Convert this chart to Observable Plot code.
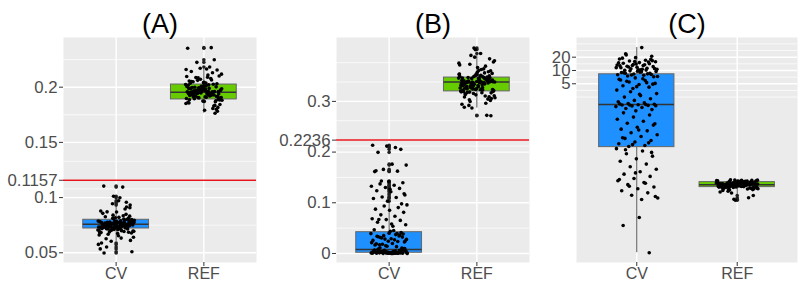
<!DOCTYPE html>
<html>
<head>
<meta charset="utf-8">
<script src="https://cdn.jsdelivr.net/npm/d3@7"></script>
<script src="https://cdn.jsdelivr.net/npm/@observablehq/plot@0.6"></script>
<style>
  html, body { margin: 0; padding: 0; background: #ffffff; }
  #row { display: flex; flex-direction: row; width: 798px; height: 282px; }
  #row svg { display: block; max-width: none; overflow: visible; }
</style>
</head>
<body>
<div id="row"></div>
<script>
// ---------- data ----------
const categories = ["CV", "REF"];
const panelTitles = ["(A)", "(B)", "(C)"];
const refLines = [0.1157, 0.2236, null];

const tickValuesA = [0.05, 0.1, 0.15, 0.2];
const tickValuesB = [0, 0.1, 0.2, 0.3];
const tickValuesC = [5, 10, 20];

// box statistics per category: [lower whisker, Q1, median, Q3, upper whisker]
const boxA = [[0.0603, 0.0720, 0.0759, 0.0799, 0.0916], [0.1764, 0.1889, 0.1955, 0.2024, 0.2180]];
const boxB = [[0.0000, 0.0014, 0.0080, 0.0420, 0.1000], [0.2868, 0.3197, 0.3380, 0.3470, 0.3907]];
const boxC = [[0.00075, 0.184, 1.70, 8.2, 33], [0.0155, 0.0229, 0.0260, 0.0297, 0.0336]];

const aCV = [0.0762,0.0718,0.0791,0.0745,0.0683,0.0806,0.0737,0.0772,0.0654,0.0758,
0.0729,0.0841,0.0703,0.0767,0.0749,0.0612,0.0785,0.0731,0.0896,0.0756,
0.0694,0.0779,0.0742,0.0813,0.0722,0.0535,0.0768,0.0739,0.0801,0.0675,
0.0753,0.0958,0.0726,0.0788,0.0710,0.0764,0.0832,0.0747,0.0589,0.0775,
0.0734,0.0697,0.0821,0.0759,0.0716,0.1012,0.0781,0.0743,0.0668,0.0769,
0.0728,0.0857,0.0751,0.0705,0.0794,0.0736,0.0627,0.0773,0.0741,0.0878,
0.0761,0.0688,0.0784,0.0724,0.0498,0.0757,0.0812,0.0733,0.0699,0.0776,
0.0932,0.0748,0.0719,0.0797,0.0765,0.0641,0.0738,0.0826,0.0754,0.0712,
0.0783,0.1095,0.0744,0.0679,0.0771,0.0730,0.0848,0.0760,0.0707,0.0789,
0.0552,0.0746,0.0818,0.0727,0.0693,0.0778,0.0752,0.0971,0.0735,0.0803,
0.0766,0.0661,0.0740,0.0715,0.0792,0.0869,0.0755,0.0725,0.0604,0.0774,
0.0998,0.0750,0.0686,0.0782,0.0732,0.0835,0.0763,0.0509,0.0708,0.1104,
0.0915,0.0944,0.0576,0.0633,0.0871,0.0909,0.0757,0.0773,0.0744,0.0701,
0.0786,0.0721,0.0769,0.0739,0.0809,0.0681];

const aREF = [0.1962,0.1918,0.2031,0.1874,0.1987,0.2065,0.1943,0.1901,0.2012,0.1958,
0.1835,0.1979,0.2097,0.1926,0.1968,0.1889,0.2044,0.1951,0.1807,0.1995,
0.2118,0.1937,0.1913,0.2003,0.1965,0.1862,0.2078,0.1948,0.1896,0.1982,
0.2142,0.1929,0.1971,0.1852,0.2021,0.1955,0.1782,0.1998,0.2056,0.1934,
0.1907,0.1976,0.2165,0.1945,0.1868,0.2009,0.1959,0.1921,0.2087,0.1939,
0.1791,0.1985,0.2027,0.1953,0.1881,0.2110,0.1967,0.1915,0.1994,0.1942,
0.2358,0.1974,0.1843,0.2038,0.1932,0.1961,0.2072,0.1898,0.1989,0.1950,
0.1817,0.2015,0.1924,0.2131,0.1972,0.1906,0.1946,0.2049,0.1877,0.1983,
0.2352,0.1936,0.1957,0.2101,0.1912,0.1992,0.1829,0.1963,0.2024,0.1941,
0.1895,0.2156,0.1978,0.1857,0.1930,0.2062,0.1969,0.1909,0.1997,0.1764,
0.1947,0.2007,0.2183,0.1920,0.1960,0.1871,0.2035,0.1952,0.1903,0.1986,
0.2091,0.1927,0.1799,0.1975,0.2018,0.1944,0.2225,0.1884,0.1966,0.2052,
0.2248,0.2172,0.2160,0.1938,0.1999,0.1916,0.2041,0.1886,0.1958,0.2084];

const bCV = [0.0003,0.0012,0.0021,0.0005,0.0034,0.0008,0.0015,0.0047,0.0002,0.0026,
0.0061,0.0009,0.0018,0.0004,0.0039,0.0072,0.0011,0.0029,0.0006,0.0053,
0.0016,0.0001,0.0085,0.0023,0.0010,0.0044,0.0007,0.0031,0.0098,0.0014,
0.0003,0.0058,0.0020,0.0009,0.0036,0.0112,0.0005,0.0025,0.0067,0.0013,
0.0002,0.0041,0.0017,0.0079,0.0008,0.0032,0.0004,0.0050,0.0019,0.0093,
0.0006,0.0027,0.0011,0.0064,0.0001,0.0038,0.0022,0.0105,0.0015,0.0046,
0.0135,0.0182,0.0247,0.0291,0.0338,0.0362,0.0153,0.0214,0.0269,0.0315,
0.0384,0.0401,0.0168,0.0236,0.0352,0.0278,0.0197,0.0329,0.0415,0.0143,
0.0258,0.0372,0.0305,0.0226,0.0436,0.0189,0.0347,0.0284,0.0392,0.0452,
0.0171,0.0323,0.0241,0.0468,0.0395,
0.0523,0.0568,0.0581,0.0615,0.0652,0.0668,0.0684,0.0735,0.0762,0.0811,
0.0852,0.0874,0.0905,0.0937,0.0958,0.0536,0.0669,0.0979,
0.1032,0.1084,0.1105,0.1113,0.1152,0.1218,0.1236,0.1284,0.1302,0.1325,
0.1347,0.1372,0.1394,0.1418,0.1615,0.1624,0.1658,0.1743,0.1762,0.1995,
0.2054,0.2118,0.2136,0.2091,0.1431,0.1178,0.1266,0.1633];

const bREF = [0.3384,0.3251,0.3467,0.3129,0.3412,0.3562,0.3302,0.3198,0.3437,0.3356,
0.3045,0.3491,0.3718,0.3274,0.3398,0.3168,0.3525,0.3341,0.2963,0.3453,
0.3801,0.3228,0.3375,0.3092,0.3506,0.3317,0.3642,0.3183,0.3421,0.3289,
0.2885,0.3478,0.3362,0.3754,0.3241,0.3392,0.3019,0.3537,0.3308,0.3446,
0.3907,0.3213,0.3369,0.3147,0.3584,0.3336,0.3265,0.3483,0.2921,0.3402,
0.3668,0.3192,0.3428,0.3379,0.3071,0.3515,0.3296,0.3839,0.3236,0.3351,
0.3463,0.2998,0.3389,0.3611,0.3258,0.3417,0.3154,0.3541,0.3328,0.3472,
0.2717,0.3393,0.3221,0.3695,0.3347,0.3112,0.3498,0.3283,0.3436,0.3872,
0.3205,0.3371,0.3033,0.3552,0.3313,0.3408,0.2724,0.3244,0.3459,0.3629,
0.3177,0.3386,0.3523,0.2942,0.3345,0.3272,0.3776,0.3425,0.3138,0.3364,
0.4052,0.3488,0.3226,0.3401,0.3058,0.3572,0.3319,0.3441,0.2868,0.3381,
0.3945,0.3267,0.3506,0.4021,0.3188,0.3358,0.3733,0.3234,0.3449,0.3086,
0.3415,0.3296,0.3532,0.3171,0.3377,0.3604,0.3249,0.3462,0.3105,0.3353];

const cCV = [33,24,21,19.5,18.2,17.1,16.4,15.8,15.1,14.6,14.2,13.7,13.3,12.9,12.5,12.2,11.8,11.5,11.2,10.9,
10.6,10.3,10.1,17.8,16.0,14.9,13.5,12.0,11.0,10.4,19.0,15.5,13.0,11.6,10.7,22.5,16.7,14.0,12.7,10.2,
9.8,9.5,9.2,8.9,8.6,8.3,8.0,7.8,7.5,7.2,9.6,9.0,8.4,7.9,7.3,9.3,8.7,8.1,
6.8,6.3,5.9,5.5,5.1,4.8,4.5,4.2,3.9,3.6,6.5,5.7,4.9,4.3,6.1,5.3,
3.3,3.0,2.7,2.5,2.3,2.1,1.95,1.85,1.78,1.72,1.68,1.65,1.62,1.58,1.52,1.45,1.38,1.30,1.22,1.75,1.70,1.66,1.60,2.9,
1.10,0.98,0.88,0.79,0.71,0.64,0.58,0.52,0.47,0.43,0.39,0.35,0.32,0.29,0.26,0.24,0.22,0.20,0.19,0.62,0.45,0.30,0.23,0.21,
0.17,0.15,0.13,0.115,0.10,0.088,0.076,0.066,0.058,0.051,0.045,0.040,0.036,0.032,0.029,0.026,0.023,0.021,0.019,0.017,
0.015,0.013,0.012,0.16,0.14,0.048,0.034,0.028,0.024,0.014,
0.0047,0.0031,0.00075];

const cREF = [0.0262,0.0248,0.0285,0.0231,0.0271,0.0302,0.0255,0.0239,0.0278,0.0266,
0.0219,0.0291,0.0318,0.0244,0.0259,0.0226,0.0296,0.0268,0.0207,0.0281,
0.0329,0.0236,0.0252,0.0213,0.0288,0.0264,0.0309,0.0229,0.0275,0.0247,
0.0193,0.0283,0.0257,0.0322,0.0241,0.0269,0.0201,0.0293,0.0253,0.0276,
0.0336,0.0234,0.0261,0.0222,0.0299,0.0250,0.0243,0.0286,0.0185,0.0272,
0.0313,0.0228,0.0265,0.0258,0.0210,0.0289,0.0246,0.0325,0.0237,0.0263,
0.0279,0.0198,0.0256,0.0305,0.0242,0.0270,0.0224,0.0294,0.0251,0.0282,
0.0148,0.0260,0.0233,0.0316,0.0267,0.0216,0.0290,0.0249,0.0274,0.0331,
0.0232,0.0262,0.0204,0.0297,0.0245,0.0273,0.0132,0.0240,0.0284,0.0311,
0.0227,0.0266,0.0292,0.0178,0.0254,0.0238,0.0320,0.0277,0.0218,0.0259,
0.0122,0.0287,0.0235,0.0263,0.0209,0.0300,0.0252,0.0280,0.0169,0.0268,
0.0327,0.0244,0.0295,0.0115,0.0230,0.0257,0.0307,0.0239,0.0283,0.0212];

// ---------- styling ----------
const boxFill = ["#1E90FF", "#66CC00"];
const font = "'Liberation Sans', Arial, sans-serif";
const labelColor = "#4D4D4D";

// ggplot-like minor breaks (midpoints in transformed space, extended one step)
function minorBreaks(b, t, ti, dom) {
  const tb = b.map(t), n = tb.length, lim = dom.map(t);
  const ext = [tb[0] - (tb[1] - tb[0]), ...tb, tb[n - 1] + (tb[n - 1] - tb[n - 2])];
  const out = [];
  for (let i = 0; i < ext.length - 1; i++) out.push(ext[i], (ext[i] + ext[i + 1]) / 2);
  out.push(ext[ext.length - 1]);
  return out.filter(x => x >= lim[0] && x <= lim[1] && !tb.some(y => Math.abs(y - x) < 1e-9)).map(ti);
}

function panel(cfg) {
  const {title, ref, ticks, domain, log, groups, stats, width, ml, mr} = cfg;
  const pts = groups.flatMap((vals, g) => vals.map((v, i) => ({
    pos: g + 1, v, jit: (((i + 1) * 0.6180339887) % 1 - 0.5) * 0.42
  })));
  const st = stats.map((s, g) => ({pos: g + 1, lo: s[0], q1: s[1], med: s[2], q3: s[3], hi: s[4], fill: boxFill[g]}));
  const outl = pts.filter(p => p.v < st[p.pos - 1].lo || p.v > st[p.pos - 1].hi);
  const majors = (ref != null ? [...ticks, ref] : ticks.slice()).sort((a, b) => a - b);
  const t = log ? Math.log10 : (x => x);
  const ti = log ? (x => Math.pow(10, x)) : (x => x);
  const minors = minorBreaks(majors, t, ti, domain);
  const hw = 0.375;
  return Plot.plot({
    width, height: 282,
    marginTop: 37, marginBottom: 20, marginLeft: ml, marginRight: mr,
    style: {fontFamily: font, fontSize: "16px", color: labelColor, background: "transparent", overflow: "visible"},
    x: {type: "linear", domain: [0.4, 2.6], axis: null},
    y: {type: log ? "log" : "linear", domain, axis: null},
    marks: [
      Plot.frame({fill: "#EBEBEB", stroke: null}),
      Plot.ruleY(minors, {stroke: "#ffffff", strokeWidth: 0.7}),
      Plot.ruleY(majors, {stroke: "#ffffff", strokeWidth: 1.4}),
      Plot.ruleX([1, 2], {stroke: "#ffffff", strokeWidth: 1.4}),
      Plot.ruleX(st, {x: "pos", y1: "q3", y2: "hi", stroke: "#555555", strokeWidth: 1}),
      Plot.ruleX(st, {x: "pos", y1: "lo", y2: "q1", stroke: "#555555", strokeWidth: 1}),
      Plot.rectY(st, {x1: d => d.pos - hw, x2: d => d.pos + hw, y1: "q1", y2: "q3", fill: "fill", stroke: "#666666", strokeWidth: 1}),
      Plot.ruleY(st, {x1: d => d.pos - hw, x2: d => d.pos + hw, y: "med", stroke: "#333333", strokeWidth: 1.5}),
      Plot.dot(outl, {x: "pos", y: "v", r: 1.8, fill: "#222222", stroke: null}),
      Plot.dot(pts, {x: d => d.pos + d.jit, y: "v", r: 1.8, fill: "#000000", stroke: null}),
      ref != null ? Plot.ruleY([ref], {stroke: "#E8141C", strokeWidth: 1.5}) : null,
      // y ticks (labels drawn separately so that log-scale labels are not filtered)
      Plot.axisY(majors, {tickSize: 4, fill: null, stroke: "#333333", label: null}),
      Plot.text(majors, {y: d => d, text: d => String(d), frameAnchor: "left", textAnchor: "end", dx: -6,
        fontSize: 16.8, fill: labelColor, fontFamily: font}),
      Plot.axisX([1, 2], {tickSize: 4, tickPadding: 1, tickFormat: d => categories[Math.round(d) - 1], fontSize: 16,
        color: labelColor, stroke: "#333333", fontFamily: font, label: null}),
      Plot.text([title], {frameAnchor: "top", dy: -5, lineAnchor: "bottom", fontSize: 27, fill: "#000000", fontFamily: font})
    ]
  });
}

const row = document.getElementById("row");
row.append(panel({title: panelTitles[0], ref: refLines[0], ticks: tickValuesA, domain: [0.0412, 0.245], log: false,
  groups: [aCV, aREF], stats: boxA, width: 270, ml: 63, mr: 14}));
row.append(panel({title: panelTitles[1], ref: refLines[1], ticks: tickValuesB, domain: [-0.0178, 0.426], log: false,
  groups: [bCV, bREF], stats: boxB, width: 270, ml: 66, mr: 11}));
row.append(panel({title: panelTitles[2], ref: refLines[2], ticks: tickValuesC, domain: [0.00045, 55.8], log: true,
  groups: [cCV, cREF], stats: boxC, width: 258, ml: 36, mr: 1}));
</script>
</body>
</html>
